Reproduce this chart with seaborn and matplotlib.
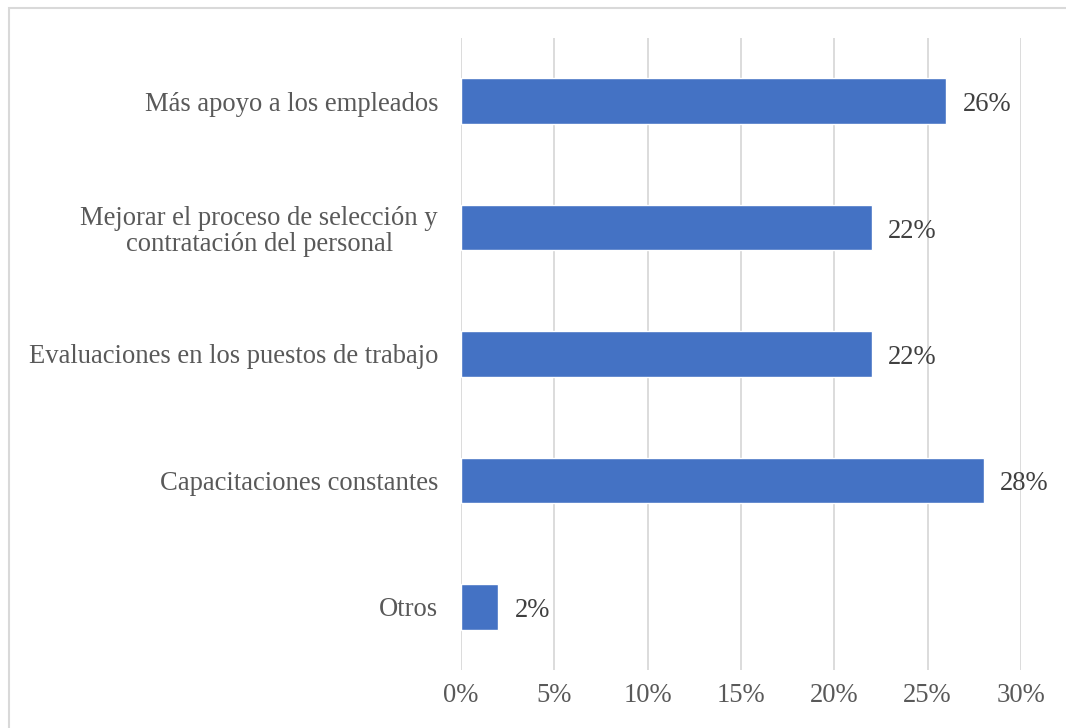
import matplotlib
matplotlib.use("Agg")
import matplotlib.pyplot as plt
from matplotlib.patches import Rectangle
import seaborn as sns
import pandas as pd

categories = [
    "Más apoyo a los empleados",
    "Mejorar el proceso de selección y\ncontratación del personal",
    "Evaluaciones en los puestos de trabajo",
    "Capacitaciones constantes",
    "Otros",
]
values = [26, 22, 22, 28, 2]
tick_values = [0, 5, 10, 15, 20, 25, 30]
tick_labels = ["0%", "5%", "10%", "15%", "20%", "25%", "30%"]

df = pd.DataFrame({"categoria": categories, "porcentaje": values})

sns.set_theme(style="white")
plt.rcParams["font.family"] = ["Liberation Serif", "DejaVu Serif"]

fig = plt.figure(figsize=(10.66, 7.28), dpi=100)
W, H = 1066, 728
ax = fig.add_axes([461 / W, 1 - 670 / H, (1021 - 461) / W, (670 - 38) / H])

sns.barplot(data=df, x="porcentaje", y="categoria", orient="h",
            color="#4472C4", saturation=1, width=0.36, ax=ax, zorder=3)

ax.set_xlim(0, 30)
ax.set_xticks(tick_values)
ax.set_xticklabels(tick_labels)
ax.grid(axis="x", color="#D9D9D9", linewidth=1.3, zorder=0)
ax.set_axisbelow(True)
for s in ax.spines.values():
    s.set_visible(False)
ax.set_xlabel("")
ax.set_ylabel("")
ax.tick_params(axis="x", length=0, pad=9.5, labelsize=19.2, labelcolor="#595959")
ax.tick_params(axis="y", length=0, pad=16.5, labelsize=19.2, labelcolor="#595959")
for lbl in ax.get_yticklabels():
    lbl.set_horizontalalignment("right")
    lbl.set_multialignment("center")
    lbl.set_linespacing(1.05)

for i, v in enumerate(values):
    ax.annotate(f"{v}%", xy=(v, i), xytext=(12, -2.5), textcoords="offset points",
                ha="left", va="center", fontsize=19.2, color="#404040")

# outer frame of the chart area
fig.patches.append(Rectangle((9 / W, -0.05), 1.2, 1 - 8 / H + 0.05,
                             transform=fig.transFigure, fill=False,
                             edgecolor="#D9D9D9", linewidth=1.5))

fig.savefig("out.png", dpi=100)
